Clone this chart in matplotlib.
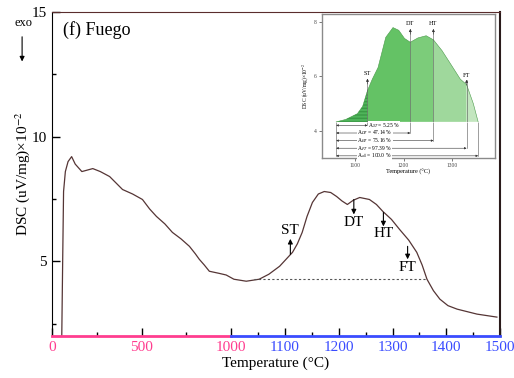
import numpy as np
import matplotlib
matplotlib.use("Agg")
import matplotlib.pyplot as plt

plt.rcParams['font.family'] = ['Liberation Serif', 'DejaVu Serif']
plt.rcParams['mathtext.fontset'] = 'stix'

# main DSC curve
temp = [55, 60, 65, 75, 90, 110, 130, 167, 228, 270, 322, 394, 450, 505, 545,
        583, 630, 672, 720, 767, 800, 822, 850, 878, 930, 972, 1005, 1028,
        1052, 1070, 1090, 1114, 1123, 1132, 1141, 1151, 1162, 1173, 1185,
        1196, 1206, 1216, 1227, 1239, 1257, 1270, 1282, 1298, 1313, 1330,
        1345, 1355, 1364, 1376, 1388, 1403, 1420, 1457, 1494]
dsc = [2.0, 5.0, 7.8, 8.6, 9.0, 9.2, 8.9, 8.6, 8.72, 8.6, 8.4, 7.88, 7.7,
       7.48, 7.1, 6.8, 6.5, 6.16, 5.9, 5.6, 5.3, 5.08, 4.85, 4.6, 4.52, 4.45,
       4.28, 4.2, 4.28, 4.48, 4.8, 5.36, 5.7, 6.16, 6.8, 7.36, 7.7, 7.8, 7.76,
       7.6, 7.42, 7.28, 7.45, 7.56, 7.48, 7.28, 7.0, 6.68, 6.28, 5.85,
       5.36, 4.85, 4.28, 3.82, 3.48, 3.22, 3.08, 2.88, 2.76]

# characteristic temperatures on the main curve
char_names = ['ST', 'DT', 'HT', 'FT']
char_temp = [1110, 1228, 1283, 1328]
char_base = [5.28, 7.48, 6.96, 5.6]
char_tip = [5.9, 6.88, 6.4, 5.08]
char_label = [6.22, 6.56, 6.12, 4.76]
baseline = 4.28
base_range = [1043, 1364]

# inset curve
in_temp = [1060, 1080, 1104, 1115, 1125, 1135, 1147, 1163, 1178, 1190, 1202,
           1214, 1230, 1247, 1262, 1280, 1300, 1318, 1331, 1345, 1355]
in_dsc = [4.33, 4.42, 4.63, 4.9, 5.48, 5.9, 6.33, 7.44, 7.8, 7.7, 7.4, 7.26,
          7.42, 7.5, 7.35, 6.95, 6.4, 5.9, 5.7, 5.0, 4.33]
in_base = 4.33
in_bounds = [1060, 1125, 1214, 1262, 1331, 1355]
in_colors = ['#4fb45a', '#64c265', '#7ccc7a', '#9fd89c', '#c3e6bf']
in_label_y = [6.1, 7.95, 7.95, 6.05]
in_tip_y = [5.92, 7.75, 7.75, 5.88]
row_y = [4.2, 3.92, 3.64, 3.36, 3.08]
row_text = ['A$_{ST}$ = 5.25 %', 'A$_{DT}$ = 47.14 %', 'A$_{HT}$ = 75.16 %',
            'A$_{FT}$ = 97.39 %', 'A$_{all}$ = 100.0 %']

pink = '#ff3d8f'
blue = '#3a4cff'


def fwd(t):
    t = np.asarray(t, dtype=float)
    return np.where(t <= 1000, t, 1000 + 3 * (t - 1000))


def inv(u):
    u = np.asarray(u, dtype=float)
    return np.where(u <= 1000, u, 1000 + (u - 1000) / 3)


fig = plt.figure(figsize=(5.14, 3.78), dpi=100)
ax = fig.add_axes([0.101, 0.111, 0.872, 0.857])
ax.set_xscale('function', functions=(fwd, inv))
ax.set_xlim(0, 1500)
ax.set_ylim(2, 15)

ax.plot(temp, dsc, color='#553535', lw=0.9)
ax.plot(base_range, [baseline, baseline], ls=(0, (2, 2)), color='#555555', lw=0.8)

for name, t, b, tip, ly in zip(char_names, char_temp, char_base, char_tip, char_label):
    ax.annotate('', xy=(t, tip), xytext=(t, b),
                arrowprops=dict(arrowstyle='-|>', color='black', lw=0.8,
                                mutation_scale=7, shrinkA=0, shrinkB=0))
    ax.text(t, ly, name, ha='center', va='center', fontsize=11)

ax.text(60, 14.3, '(f) Fuego', fontsize=13, va='center')

# axis ticks
major_x = [0, 500, 1000, 1100, 1200, 1300, 1400, 1500]
minor_x = [250, 750, 1050, 1150, 1250, 1350, 1450]
ax.set_xticks(major_x)
ax.set_xticks(minor_x, minor=True)
ax.set_xticklabels([str(v) for v in major_x])
ax.set_yticks([5, 10, 15])
ax.set_yticks([2.5, 7.5, 12.5], minor=True)
ax.tick_params(direction='in', labelsize=11, length=6, width=1)
ax.tick_params(which='minor', direction='in', length=3, width=1)
for v, tick in zip(major_x, ax.xaxis.get_major_ticks()):
    c = pink if v <= 1000 else blue
    tick.tick1line.set_color(c)
    tick.label1.set_color(c)
for v, tick in zip(minor_x, ax.xaxis.get_minor_ticks()):
    tick.tick1line.set_color(pink if v < 1000 else blue)

ax.spines['bottom'].set_visible(False)
ax.plot([0, 1000], [0, 0], color=pink, lw=2, clip_on=False,
        transform=ax.get_xaxis_transform(), zorder=5)
ax.plot([1000, 1500], [0, 0], color=blue, lw=2, clip_on=False,
        transform=ax.get_xaxis_transform(), zorder=5)
ax.spines['left'].set_color('black')
ax.spines['top'].set_color('#5a2d2d')
ax.spines['right'].set_color('#2a1a1a')
ax.spines['right'].set_linewidth(1.5)

ax.set_xlabel('Temperature (°C)', fontsize=11, labelpad=2)
ax.set_ylabel('DSC (uV/mg)×10$^{-2}$', fontsize=11, labelpad=0)

fig.text(0.045, 0.94, 'exo', fontsize=9, ha='center', va='center')
fig.add_artist(matplotlib.patches.FancyArrowPatch(
    (0.043, 0.91), (0.043, 0.83), transform=fig.transFigure,
    arrowstyle='-|>', mutation_scale=7, color='black', lw=0.8))

# inset
ins = fig.add_axes([0.626, 0.582, 0.337, 0.381])
ins.set_xlim(1030, 1390)
ins.set_ylim(3.0, 8.3)
ins.plot(in_temp, in_dsc, color='#4a9a4a', lw=0.4)
tarr = np.array(in_temp)
darr = np.array(in_dsc)
for i in range(5):
    m = (tarr >= in_bounds[i]) & (tarr <= in_bounds[i + 1])
    ins.fill_between(tarr[m], in_base, darr[m], color=in_colors[i], lw=0,
                     hatch='-----' if i == 0 else None, edgecolor='#3a9a45' if i == 0 else None)

# vertical markers
for k in range(4):
    t = in_bounds[k + 1]
    ins.plot([t, t], [row_y[k], in_tip_y[k]], color='#555555', lw=0.4)
    ins.annotate('', xy=(t, in_tip_y[k]), xytext=(t, in_tip_y[k] - 0.2),
                 arrowprops=dict(arrowstyle='-|>', color='#333333', lw=0.4,
                                 mutation_scale=4, shrinkA=0, shrinkB=0))
    ins.text(t, in_label_y[k], char_names[k], ha='center', va='center', fontsize=4.5)
ins.plot([in_bounds[0], in_bounds[0]], [in_base, row_y[4]], color='#555555', lw=0.4)
ins.plot([in_bounds[5], in_bounds[5]], [in_base, row_y[4]], color='#555555', lw=0.4)
ins.plot([in_bounds[0], in_bounds[5]], [in_base, in_base], color='white', lw=0.4)

for k in range(5):
    t_end = in_bounds[k + 1]
    ins.annotate('', xy=(t_end, row_y[k]), xytext=(in_bounds[0], row_y[k]),
                 arrowprops=dict(arrowstyle='<|-|>', color='#333333', lw=0.4,
                                 mutation_scale=3, shrinkA=0, shrinkB=0))
    if k == 0:
        ins.text(in_bounds[1] + 2, row_y[k], row_text[k], ha='left', va='center',
                 fontsize=4, bbox=dict(facecolor='white', edgecolor='none', pad=0.2))
    else:
        ins.text(1140, row_y[k], row_text[k], ha='center', va='center', fontsize=4,
                 bbox=dict(facecolor='white', edgecolor='none', pad=0.2))

ins.set_xticks([1100, 1200, 1300])
ins.set_yticks([4, 6, 8])
ins.tick_params(labelsize=4, length=2, width=0.5, pad=1.5, colors='#444444')
for s in ins.spines.values():
    s.set_color('#8a8a8a')
    s.set_linewidth(1.0)
ins.set_xlabel('Temperature (°C)', fontsize=4.5, labelpad=1)
ins.set_ylabel('DSC (uV/mg)×10$^{-2}$', fontsize=4, labelpad=2)

fig.savefig('out.png', dpi=100)
